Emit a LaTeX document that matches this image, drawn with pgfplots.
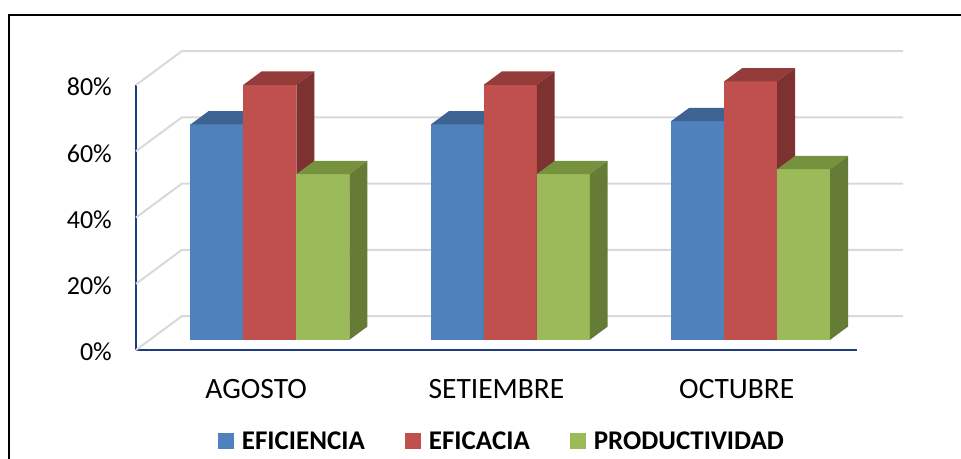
\documentclass[border=0pt]{standalone}
\usepackage{pgfplots}
\usepackage{pgfplotstable}
\pgfplotsset{compat=1.18}
\usepackage{fontspec}
\setmainfont{Carlito}

\definecolor{blueF}{HTML}{4F81BD}
\definecolor{blueT}{HTML}{3D6392}
\definecolor{blueS}{HTML}{355884}
\definecolor{redF}{HTML}{C0504D}
\definecolor{redT}{HTML}{943C3A}
\definecolor{redS}{HTML}{7D3130}
\definecolor{greenF}{HTML}{9BBB59}
\definecolor{greenT}{HTML}{77923F}
\definecolor{greenS}{HTML}{657B36}
\definecolor{gridc}{HTML}{D9D9D9}
\definecolor{axisblue}{HTML}{1F3C7E}

\pgfplotstableread{
cat efi efa pro
0 65 77 50
1 65 77 50
2 66 78 51.5
}\datatable

\pgfmathsetmacro\dxD{46/240.3333}
\pgfmathsetmacro\dyD{34/3.3125}
\def\fa{0.30}
\def\fb{0.69}
\pgfmathsetmacro\bw{53/240.3333}

\newcommand\drawbar[4]{%
 \pgfmathsetmacro\xa{#1+0.5-1.5*\bw+#2*\bw+\fa*\dxD}%
 \pgfmathsetmacro\xb{\xa+\bw}%
 \pgfmathsetmacro\ya{\fa*\dyD}%
 \pgfmathsetmacro\yb{\ya+#3}%
 \pgfmathsetmacro\ddx{(\fb-\fa)*\dxD}%
 \pgfmathsetmacro\ddy{(\fb-\fa)*\dyD}%
 \pgfmathsetmacro\xc{\xa+\ddx}%
 \pgfmathsetmacro\xd{\xb+\ddx}%
 \pgfmathsetmacro\yc{\ya+\ddy}%
 \pgfmathsetmacro\yd{\yb+\ddy}%
 \edef\doit{%
  \noexpand\addplot[fill=#4F, draw=none, forget plot] coordinates {(\xa,\ya) (\xb,\ya) (\xb,\yb) (\xa,\yb)} --cycle;
  \noexpand\addplot[fill=#4T, draw=none, forget plot] coordinates {(\xa,\yb) (\xb,\yb) (\xd,\yd) (\xc,\yd)} --cycle;
  \noexpand\addplot[fill=#4S, draw=none, forget plot] coordinates {(\xb,\ya) (\xd,\yc) (\xd,\yd) (\xb,\yb)} --cycle;
 }\doit
}

\begin{document}
\begin{tikzpicture}
\path[use as bounding box] (0,0) rectangle (961pt,-458pt);
\clip (0,0) rectangle (961pt,-458pt);
\begin{axis}[
  at={(136pt,-350pt)}, anchor=south west,
  scale only axis, width=721pt, height=265pt,
  xmin=0, xmax=3, ymin=0, ymax=80,
  clip=false,
  axis x line*=bottom, axis y line*=left,
  axis line style={draw=axisblue, line width=2pt, -},
  major tick length=0pt,
  ytick={0,20,40,60,80},
  yticklabels={0\%,20\%,40\%,60\%,80\%},
  xtick={0.5,1.5,2.5},
  xticklabels={AGOSTO,SETIEMBRE,OCTUBRE},
  yticklabel style={anchor=east, inner sep=0pt, xshift=-24pt, yshift=-2pt, font=\fontsize{26}{30}\selectfont},
  xticklabel style={anchor=base, inner sep=0pt, yshift=-48pt, font=\fontsize{29.5}{33}\selectfont},
  legend columns=3,
  legend image code/.code={\fill[#1] (0pt,-8pt) rectangle (16pt,8pt);},
  legend style={at={(0.5075,-0.345)}, anchor=center, draw=none, fill=none,
    font=\bfseries\fontsize{27}{30}\selectfont,
    /tikz/every odd column/.append style={column sep=6pt},
    /tikz/every even column/.append style={column sep=38pt},
    inner sep=0pt},
]
% back wall and side wall grid lines
\pgfplotsinvokeforeach{0,20,40,60,80}{
  \pgfmathsetmacro\gy{#1+\dyD}
  \pgfmathsetmacro\gx{3+\dxD}
  \edef\doit{\noexpand\addplot[gridc, line width=2pt, forget plot] coordinates {(0,#1) (\dxD,\gy) (\gx,\gy)};}
  \doit
}
% 3D bars
\pgfplotsinvokeforeach{0,1,2}{
  \pgfplotstablegetelem{#1}{efi}\of\datatable \let\va\pgfplotsretval
  \pgfplotstablegetelem{#1}{efa}\of\datatable \let\vb\pgfplotsretval
  \pgfplotstablegetelem{#1}{pro}\of\datatable \let\vc\pgfplotsretval
  \drawbar{#1}{0}{\va}{blue}
  \drawbar{#1}{1}{\vb}{red}
  \drawbar{#1}{2}{\vc}{green}
}
\addlegendimage{fill=blueF, draw=none}
\addlegendentry{EFICIENCIA}
\addlegendimage{fill=redF, draw=none}
\addlegendentry{EFICACIA}
\addlegendimage{fill=greenF, draw=none}
\addlegendentry{PRODUCTIVIDAD}
\end{axis}
\draw[line width=2pt, black] (9pt,-15pt) rectangle (1000pt,-500pt);
\end{tikzpicture}
\end{document}
